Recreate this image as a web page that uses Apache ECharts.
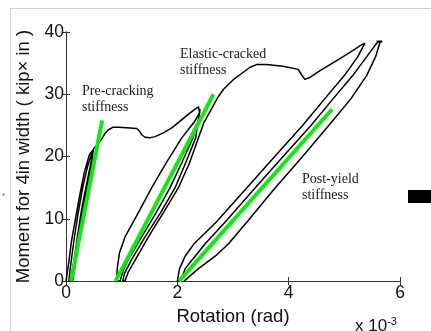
<!DOCTYPE html>
<html>
<head>
<meta charset="utf-8">
<script src="https://cdn.jsdelivr.net/npm/echarts@6/dist/echarts.min.js"></script>
<style>
  html, body { margin: 0; padding: 0; background: #fff; }
  #chart { width: 431px; height: 331px; }
</style>
</head>
<body>
<div id="chart"></div>
<script>
// Rotation in units of 1e-3 rad, moment in kip·in per 4 in width.
const xTicks = [0, 2, 4, 6];
const yTicks = [0, 10, 20, 30, 40];

// Cycles before cracking, then the cracking plateau up to the second peak
const precrackPath = [
  [0.00, 0.0], [0.05, 3.0], [0.10, 6.5], [0.16, 9.5], [0.24, 13.5], [0.33, 17.5], [0.42, 20.3], [0.49, 21.1],
  [0.47, 19.0], [0.40, 16.0], [0.31, 11.5], [0.23, 7.5], [0.15, 3.5], [0.09, 0.0],
  [0.05, 0.0], [0.09, 3.0], [0.15, 7.0], [0.22, 11.0], [0.30, 15.0], [0.39, 18.5], [0.49, 21.2],
  [0.48, 20.0], [0.44, 17.0], [0.35, 12.0], [0.26, 7.5], [0.18, 3.5], [0.12, 0.0],
  [0.10, 0.0], [0.15, 3.5], [0.21, 7.5], [0.29, 12.0], [0.39, 16.5], [0.46, 19.5], [0.50, 21.3],
  [0.57, 22.0], [0.64, 22.8], [0.70, 23.7], [0.76, 24.3], [0.84, 24.7], [0.95, 24.7],
  [1.15, 24.6], [1.27, 24.5], [1.32, 24.1], [1.36, 23.5], [1.42, 23.1], [1.50, 23.0],
  [1.60, 23.2], [1.75, 23.8], [1.90, 24.6], [2.05, 25.7], [2.20, 26.8], [2.32, 27.6],
  [2.38, 28.0], [2.40, 27.0]
];

// Unload/reload loops after cracking, then the envelope up to the first yield peak
const crackedPath = [
  [2.40, 27.0], [2.30, 25.5], [2.08, 23.0], [1.80, 19.0], [1.54, 15.0], [1.30, 11.0],
  [1.06, 7.1], [0.96, 4.5], [0.92, 2.0], [0.91, 0.0],
  [0.97, 0.0], [1.02, 1.5], [1.12, 3.5], [1.36, 7.1], [1.62, 11.0], [1.87, 15.0],
  [2.08, 19.0], [2.28, 23.0], [2.38, 26.0], [2.41, 27.6],
  [2.38, 26.0], [2.33, 23.0], [2.15, 19.0], [1.96, 15.0], [1.70, 11.0], [1.42, 7.1],
  [1.18, 3.5], [1.05, 1.2], [1.02, 0.0],
  [1.06, 0.0], [1.12, 1.5], [1.25, 3.5], [1.48, 7.1], [1.75, 11.0], [2.02, 15.0],
  [2.22, 19.0], [2.38, 23.0], [2.48, 25.5], [2.60, 27.4], [2.72, 29.4], [2.83, 30.8],
  [3.00, 32.3], [3.18, 33.5], [3.30, 34.3], [3.43, 34.8], [3.60, 34.8], [3.90, 34.5],
  [4.17, 34.0], [4.22, 33.3], [4.29, 32.4], [4.38, 32.7], [4.60, 34.0], [4.90, 35.6],
  [5.15, 37.0], [5.30, 37.9], [5.37, 38.2]
];

// Post-yield loops between the two peaks and the residual rotation near 2e-3
const yieldPath = [
  [5.37, 38.2], [5.24, 36.0], [5.00, 33.0], [4.65, 29.3], [4.25, 25.0], [3.75, 20.0],
  [3.25, 15.0], [2.70, 9.5], [2.30, 6.0], [2.14, 4.0], [2.04, 2.0], [2.00, 0.0],
  [2.06, 0.0], [2.14, 2.0], [2.32, 4.0], [2.50, 6.0], [2.86, 9.5], [3.40, 15.0],
  [3.90, 20.0], [4.40, 25.0], [4.80, 29.3], [5.15, 33.0], [5.40, 36.0], [5.58, 38.2],
  [5.64, 38.5], [5.58, 38.5], [5.68, 38.5], [5.64, 38.3],
  [5.56, 36.0], [5.40, 33.0], [5.12, 29.3], [4.72, 25.0], [4.25, 20.0], [3.76, 15.0],
  [3.25, 9.5], [2.92, 6.0], [2.68, 4.0], [2.38, 2.0], [2.12, 0.0]
];

// Fitted stiffness lines
const preCrackingFit = [[0.09, 0.0], [0.65, 25.8]];
const elasticCrackedFit = [[0.89, 0.0], [2.65, 30.0]];
const postYieldFit = [[2.03, 0.0], [4.78, 27.6]];

const chart = echarts.init(document.getElementById('chart'), null, { renderer: 'canvas' });

const axisColor = '#333';
const textColor = '#111';
const tickFont = { fontFamily: 'Liberation Sans, Arial, sans-serif', fontSize: 17.5, color: textColor };
const nameFont = { fontFamily: 'Liberation Sans, Arial, sans-serif', fontSize: 18.5, color: textColor };

function blackLine(data) {
  return {
    type: 'line', data: data, xAxisIndex: 0, yAxisIndex: 0,
    showSymbol: false, smooth: false, silent: true,
    lineStyle: { color: '#000', width: 1.5 }, z: 3
  };
}
function greenLine(data) {
  return {
    type: 'line', data: data, xAxisIndex: 0, yAxisIndex: 0,
    showSymbol: false, smooth: false, silent: true,
    lineStyle: { color: '#10ea10', width: 4, cap: 'butt' }, z: 4
  };
}

const option = {
  backgroundColor: '#fff',
  animation: false,
  grid: { left: 66, right: 31, top: 32, bottom: 46, containLabel: false },
  xAxis: [
    {
      type: 'value', position: 'bottom',
      min: xTicks[0], max: xTicks[xTicks.length - 1], interval: xTicks[1] - xTicks[0],
      name: 'Rotation (rad)', nameLocation: 'middle', nameGap: 21,
      nameTextStyle: nameFont,
      axisLine: { show: true, lineStyle: { color: axisColor, width: 1 } },
      axisTick: { show: true, inside: true, length: 4, lineStyle: { color: axisColor } },
      axisLabel: Object.assign({ margin: 3 }, tickFont),
      splitLine: { show: false }
    },
    {
      type: 'value', position: 'top',
      min: xTicks[0], max: xTicks[xTicks.length - 1], interval: xTicks[1] - xTicks[0],
      axisLine: { show: true, lineStyle: { color: axisColor, width: 1 } },
      axisTick: { show: true, inside: true, length: 4, lineStyle: { color: axisColor } },
      axisLabel: { show: false },
      splitLine: { show: false }
    }
  ],
  yAxis: [
    {
      type: 'value', position: 'left',
      min: yTicks[0], max: yTicks[yTicks.length - 1], interval: yTicks[1] - yTicks[0],
      name: 'Moment for 4in width ( kip\u00d7 in )', nameLocation: 'middle', nameGap: 19,
      nameTextStyle: nameFont,
      axisLine: { show: true, lineStyle: { color: axisColor, width: 1 } },
      axisTick: { show: true, inside: true, length: 4, lineStyle: { color: axisColor } },
      axisLabel: Object.assign({ margin: 2 }, tickFont),
      splitLine: { show: false }
    },
    {
      type: 'value', position: 'right',
      min: yTicks[0], max: yTicks[yTicks.length - 1], interval: yTicks[1] - yTicks[0],
      axisLine: { show: true, lineStyle: { color: axisColor, width: 1 } },
      axisTick: { show: true, inside: true, length: 4, lineStyle: { color: axisColor } },
      axisLabel: { show: false },
      splitLine: { show: false }
    }
  ],
  series: [
    blackLine(precrackPath),
    blackLine(crackedPath),
    blackLine(yieldPath),
    greenLine(preCrackingFit),
    greenLine(elasticCrackedFit),
    greenLine(postYieldFit)
  ],
  graphic: [
    // page frame around the figure
    { type: 'line', shape: { x1: 10.5, y1: 8.5, x2: 431, y2: 8.5 }, style: { stroke: '#cfcfcf', lineWidth: 1 }, silent: true },
    { type: 'line', shape: { x1: 10.5, y1: 8.5, x2: 10.5, y2: 331 }, style: { stroke: '#cfcfcf', lineWidth: 1 }, silent: true },
    { type: 'circle', shape: { cx: 3.5, cy: 194.5, r: 1 }, style: { fill: '#555' }, silent: true },
    { type: 'rect', shape: { x: 408, y: 190, width: 23, height: 13 }, style: { fill: '#000' }, silent: true },
    // stiffness annotations
    { type: 'text', left: 82, top: 83, silent: true,
      style: { text: 'Pre-cracking\nstiffness', font: '14px "Liberation Serif", "Times New Roman", serif', fill: '#222', lineHeight: 16 } },
    { type: 'text', left: 180, top: 46, silent: true,
      style: { text: 'Elastic-cracked\nstiffness', font: '14px "Liberation Serif", "Times New Roman", serif', fill: '#222', lineHeight: 16 } },
    { type: 'text', left: 302, top: 171, silent: true,
      style: { text: 'Post-yield\nstiffness', font: '14px "Liberation Serif", "Times New Roman", serif', fill: '#222', lineHeight: 16 } },
    // axis multiplier
    { type: 'text', left: 355, top: 316, silent: true,
      style: {
        text: 'x 10{sup|-3}',
        font: '17px "Liberation Sans", Arial, sans-serif', fill: textColor,
        rich: { sup: { fontSize: 11, fontFamily: 'Liberation Sans, Arial, sans-serif', verticalAlign: 'top', padding: [0, 0, 10, 0], fill: textColor } }
      } }
  ]
};

chart.setOption(option);
</script>
</body>
</html>
